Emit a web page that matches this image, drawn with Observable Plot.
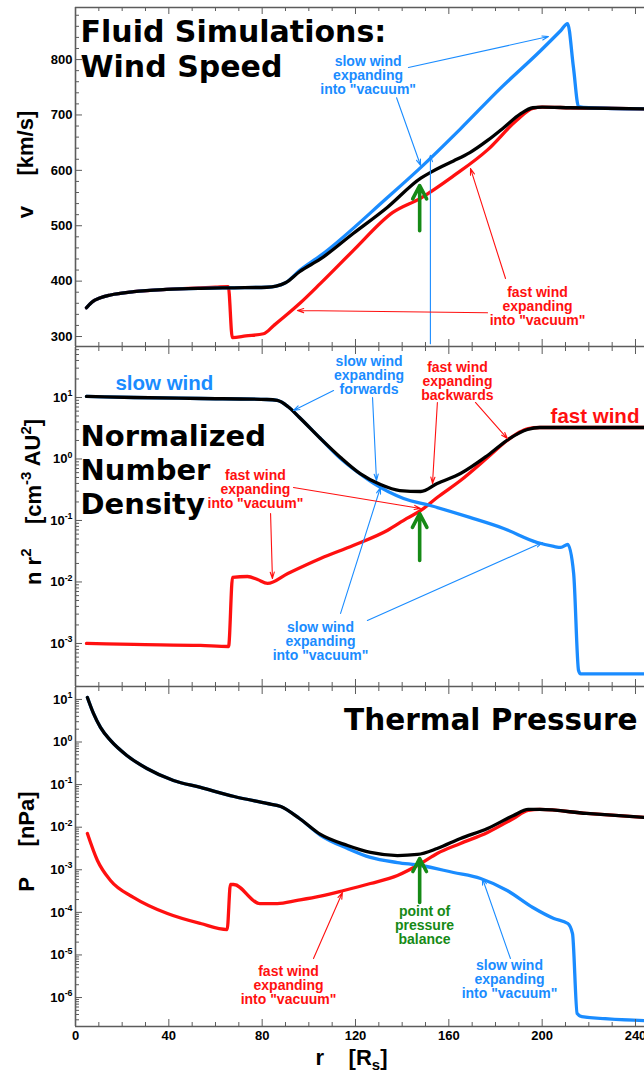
<!DOCTYPE html>
<html><head><meta charset="utf-8">
<script src="https://cdn.jsdelivr.net/npm/d3@7"></script>
<script src="https://cdn.jsdelivr.net/npm/@observablehq/plot@0.6"></script>
<style>
html,body{margin:0;padding:0;background:#fff;}
#chart{position:relative;width:644px;height:1078px;overflow:hidden;background:#fff;}
#chart svg{position:absolute;left:0;}
</style></head><body><div id="chart"></div>
<script>
// ---------- DATA ----------
// x: heliocentric distance r in solar radii
const X_MAJOR = [0, 40, 80, 120, 160, 200, 240];
const X_MINOR = [10, 20, 30, 50, 60, 70, 90, 100, 110, 130, 140, 150, 170, 180, 190, 210, 220, 230];

// Panel 1: wind speed v [km/s]
const SPEED_MAJOR = [300, 400, 500, 600, 700, 800];
const SPEED_MINOR = [320, 340, 360, 380, 420, 440, 460, 480, 520, 540, 560, 580, 620, 640, 660, 680, 720, 740, 760, 780, 820, 840, 860, 880];
const speedBlackR = [4.7, 7, 10.7, 15, 25, 39, 53.6, 68, 82, 86, 90, 96, 105, 119, 133.6, 148, 152, 157, 162, 169, 176.6, 183.5, 190.7, 196, 200, 212, 243.9];
const speedBlackV = [352, 362, 370, 375, 381, 385, 387, 388, 389, 391, 397, 417, 440, 486, 533, 586, 596, 607, 617, 632, 654, 677, 702, 713, 714, 713, 711];
const speedRedR = [4.7, 7, 10.7, 15, 25, 39, 53.6, 60, 65.5, 67.2, 73, 80.6, 85, 91, 96.4, 105, 119, 136, 148, 162, 176.6, 189, 196, 200, 212, 243.9];
const speedRedV = [352, 362, 370, 375, 381, 385, 388, 389, 390, 298, 301, 305, 320, 341, 361, 396, 455, 524, 550, 590, 637, 690, 712, 714, 713, 711];
const speedBlueR = [4.7, 7, 10.7, 15, 25, 39, 53.6, 68, 82, 86, 90, 96, 105, 133.7, 147.9, 165, 182.1, 199.3, 207.9, 210.9, 213.4, 215.6, 220, 243.9];
const speedBlueV = [352, 362, 370, 375, 381, 385, 387, 388, 389, 391, 397, 419, 446, 551, 605, 675, 748, 816, 852, 865, 786, 715, 713, 711];

// Panel 2: normalized number density n r^2 [cm^-3 AU^2]
const DENS_DECADES = [-3, -2, -1, 0, 1];
const densBlackR = [4.7, 25, 53.6, 82, 86.5, 91, 96, 105, 113.6, 122, 130.7, 139, 148, 155, 165, 176.6, 186, 193.7, 199, 243.9];
const densBlackN = [10.4, 10, 9.63, 9.28, 8.94, 7.14, 4.73, 2.15, 1.06, 0.58, 0.385, 0.307, 0.296, 0.40, 0.58, 1.14, 2.15, 3.02, 3.25, 3.25];
const densBlueR = [4.7, 25, 53.6, 82, 86.5, 91, 96, 105, 113.6, 122, 127.8, 140.6, 152, 169, 183.5, 198, 205, 208, 211, 213.5, 215.6, 216.5, 243.9];
const densBlueN = [10.4, 10, 9.63, 9.28, 8.94, 7.14, 4.73, 2.15, 1.02, 0.57, 0.40, 0.228, 0.175, 0.112, 0.0741, 0.0438, 0.0378, 0.0364, 0.0407, 0.0137, 3.64e-4, 3.2e-4, 3.2e-4];
const densRedR = [4.7, 25, 53.6, 65.6, 67.3, 73.7, 78, 82.3, 91, 105, 119, 133.6, 142, 148, 155, 165, 176.6, 185, 190, 194, 199, 243.9];
const densRedN = [1.0e-3, 9.63e-4, 9.28e-4, 8.93e-4, 0.01183, 0.01228, 0.01099, 0.00946, 0.01374, 0.0241, 0.0392, 0.0687, 0.108, 0.1456, 0.2366, 0.447, 1.057, 2.0, 2.70, 3.13, 3.25, 3.25];

// Panel 3: thermal pressure P [nPa]
const PRES_DECADES = [-6, -5, -4, -3, -2, -1, 0, 1];
const presBlackR = [5.1, 7.7, 10.7, 15, 22, 30.6, 42, 53.6, 68, 82, 88, 96, 105, 116.6, 126.4, 138, 146.6, 155, 165, 176.6, 187.7, 194, 199, 219, 243.9];
const presBlackP = [11.1, 4.69, 2.20, 1.09, 0.484, 0.239, 0.125, 0.0857, 0.0526, 0.0361, 0.0306, 0.0160, 0.00675, 0.00372, 0.00255, 0.00216, 0.00229, 0.00316, 0.00543, 0.00933, 0.0188, 0.0261, 0.0261, 0.0210, 0.0169];
const presRedR = [5.1, 9.4, 15, 25, 39.4, 53.6, 65, 66.4, 67.8, 79, 86.5, 95, 105, 115, 126.4, 138, 148, 155, 165, 176.6, 187.7, 194, 199, 219, 243.9];
const presRedP = [7.11e-3, 1.65e-3, 5.60e-4, 2.23e-4, 9.40e-5, 5.47e-5, 3.95e-5, 4.51e-4, 4.51e-4, 1.61e-4, 1.61e-4, 1.91e-4, 2.40e-4, 3.26e-4, 4.76e-4, 7.35e-4, 1.40e-3, 2.41e-3, 4.14e-3, 7.52e-3, 0.0160, 0.0247, 0.0261, 0.0210, 0.0169];
const presBlueR = [5.1, 7.7, 10.7, 15, 22, 30.6, 42, 53.6, 68, 82, 88, 96, 105, 116.6, 126.4, 138, 148, 162, 173.6, 185, 196, 205, 211, 213, 215, 217, 243.9];
const presBlueP = [11.1, 4.69, 2.20, 1.09, 0.484, 0.239, 0.125, 0.0857, 0.0526, 0.0361, 0.0306, 0.0160, 6.46e-3, 3.16e-3, 1.95e-3, 1.48e-3, 1.26e-3, 8.63e-4, 6.24e-4, 3.26e-4, 1.30e-4, 7.18e-5, 5.47e-5, 3.18e-5, 4.21e-7, 3.57e-7, 2.88e-7];

// ---------- ANNOTATIONS (texts and arrows, in data coordinates) ----------
const speedTitle = [{r: 2.14, y: 876.4, text: "Fluid Simulations:\nWind Speed"}];
const speedBlueNotes = [{r: 125.4, y: 771, text: 'slow wind\nexpanding\ninto "vacuum"'}];
const speedRedNotes = [{r: 198, y: 354, text: 'fast wind\nexpanding\ninto "vacuum"'}];
const speedBlueArrows = [
  {r1: 142.7, y1: 785.6, r2: 202.7, y2: 841.5},
  {r1: 137.6, y1: 731, r2: 147.9, y2: 608.7},
  {r1: 152.1, y1: 287, r2: 152.1, y2: 627}
];
const speedRedArrows = [
  {r1: 184.3, y1: 404.7, r2: 169.3, y2: 603.2},
  {r1: 176.6, y1: 343, r2: 95.1, y2: 347}
];
const speedGreenArrows = [{r1: 147.5, y1: 491, r2: 147.5, y2: 572.6}];
const speedAxisLabel = [{r: -21.4, y: 610.5, text: "v\u00a0\u00a0\u00a0\u00a0\u00a0[km/s]"}];

const densTitle = [{r: 2.14, y: 4.01, text: "Normalized\nNumber\nDensity"}];
const densSlowLabel = [{r: 17.1, y: 13.0, text: "slow wind"}];
const densFastLabel = [{r: 203.6, y: 3.78, text: "fast wind"}];
const densBlueNotes = [
  {r: 125.8, y: 22.8, text: "slow wind\nexpanding\nforwards"},
  {r: 105, y: 1.08e-3, text: 'slow wind\nexpanding\ninto "vacuum"'}
];
const densRedNotes = [
  {r: 163.7, y: 18.2, text: "fast wind\nexpanding\nbackwards"},
  {r: 77.1, y: 0.319, text: 'fast wind\nexpanding\ninto "vacuum"'}
];
const densBlueArrows = [
  {r1: 110.6, y1: 13.0, r2: 93.4, y2: 6.15},
  {r1: 127.3, y1: 10, r2: 129, y2: 0.447},
  {r1: 125.1, y1: 2.37e-3, r2: 200.1, y2: 0.0438},
  {r1: 113.6, y1: 3.08e-3, r2: 130.7, y2: 0.344}
];
const densRedArrows = [
  {r1: 155.1, y1: 8.3, r2: 153, y2: 0.40},
  {r1: 171.4, y1: 8.3, r2: 185.1, y2: 2.15},
  {r1: 93.4, y1: 0.344, r2: 147.9, y2: 0.157},
  {r1: 83.6, y1: 0.130, r2: 84.4, y2: 0.0114}
];
const densGreenArrows = [{r1: 147.5, y1: 0.0224, r2: 147.5, y2: 0.130}];
const densAxisLabel = [{r: -18, y: 0.2, text: "n r^{2}\u00a0\u00a0\u00a0\u00a0[cm^{-3} AU^{2}]"}];

const presTitle = [{r: 240.9, y: 1.87, text: "Thermal Pressure"}];
const presGreenNotes = [{r: 149.6, y: 4.91e-5, text: "point of\npressure\nbalance"}];
const presBlueNotes = [{r: 186, y: 2.65e-6, text: 'slow wind\nexpanding\ninto "vacuum"'}];
const presRedNotes = [{r: 91.3, y: 1.96e-6, text: 'fast wind\nexpanding\ninto "vacuum"'}];
const presBlueArrows = [{r1: 186.4, y1: 8.24e-6, r2: 174.4, y2: 6.24e-4}];
const presRedArrows = [{r1: 102, y1: 8.24e-6, r2: 114.4, y2: 2.92e-4}];
const presGreenArrows = [{r1: 147.5, y1: 1.70e-4, r2: 147.5, y2: 1.84e-3}];
const presAxisLabel = [{r: -21, y: 4.6e-3, text: "P\u00a0\u00a0\u00a0\u00a0\u00a0[nPa]"}];
const xAxisLabel = [{r: 118.3, text: "r\u00a0\u00a0\u00a0\u00a0[R_{s}]"}];

// ---------- STYLE ----------
const FRAME = "#5c5c5c";
const SANS = "'Liberation Sans', Arial, Helvetica, sans-serif";
const TITLE_FONT = "'DejaVu Sans', 'Liberation Sans', sans-serif";
const BLUE = "#1a8cff", RED = "#ff1010", GREEN = "#168a16", BLACK = "#000000";
const WIDTH = 644, MARGIN_LEFT = 75, X_DOMAIN = [0, 243.86];

const zip = (xs, ys) => xs.map((x, i) => ({r: x, y: ys[i]}));
function logMinors(decades, lo, hi) {
  const out = [];
  for (let d = decades[0] - 1; d <= decades[decades.length - 1]; d++)
    for (let k = 2; k <= 9; k++) { const v = k * 10 ** d; if (v >= lo && v <= hi) out.push(v); }
  return out;
}

function smallText(data, fill) {
  return Plot.text(data, {x: "r", y: "y", text: "text", fill, fontSize: 14, fontWeight: "bold",
    fontFamily: SANS, lineHeight: 1, lineAnchor: "middle", textAnchor: "middle"});
}
function thinArrows(data, stroke) {
  return Plot.arrow(data, {x1: "r1", y1: "y1", x2: "r2", y2: "y2", stroke, strokeWidth: 1.1, headLength: 9, headAngle: 36});
}
function greenArrow(data) {
  return Plot.arrow(data, {x1: "r1", y1: "y1", x2: "r2", y2: "y2", stroke: GREEN, strokeWidth: 3.6, headLength: 11, headAngle: 55});
}
function curve(data, stroke) {
  return Plot.line(data, {x: "r", y: "y", stroke, strokeWidth: 3.3, curve: "monotone-x", strokeLinejoin: "round"});
}

function panel({height, marginTop, marginBottom, y, yMajor, yMinor, topRule, marks}) {
  const H = height - marginTop - marginBottom;
  const W = WIDTH - MARGIN_LEFT;
  const frame = [
    Plot.tickX(X_MINOR, {x: d => d, stroke: FRAME, strokeWidth: 1, insetTop: H - 4}),
    Plot.tickX(X_MAJOR, {x: d => d, stroke: FRAME, strokeWidth: 1, insetTop: H - 7}),
    Plot.tickX(X_MINOR, {x: d => d, stroke: FRAME, strokeWidth: 1, insetBottom: H - 4}),
    Plot.tickX(X_MAJOR, {x: d => d, stroke: FRAME, strokeWidth: 1, insetBottom: H - 7}),
    Plot.tickY(yMinor, {y: d => d, stroke: FRAME, strokeWidth: 1, insetRight: W - 4}),
    Plot.tickY(yMajor, {y: d => d, stroke: FRAME, strokeWidth: 1, insetRight: W - 7}),
    Plot.ruleX([0], {stroke: FRAME, strokeWidth: 1.6}),
    Plot.ruleY([y.domain[0]], {stroke: FRAME, strokeWidth: 1.6})
  ];
  if (topRule) frame.push(Plot.ruleY([y.domain[1]], {stroke: FRAME, strokeWidth: 1.6}));
  return Plot.plot({
    width: WIDTH, height, marginLeft: MARGIN_LEFT, marginRight: 0, marginTop, marginBottom,
    x: {domain: X_DOMAIN, axis: null},
    y: {...y, axis: null},
    style: {background: "transparent", overflow: "visible", fontFamily: SANS},
    marks: [...marks, ...frame]
  });
}

function yTickLabels(values, textFn, yFn) {
  return Plot.text(values, {frameAnchor: "left", y: yFn, text: textFn, textAnchor: "end", dx: -3,
    fontSize: 13, fontWeight: "bold", fontFamily: SANS, fill: "#000", lineAnchor: "middle"});
}
function axisLabel(data) {
  return Plot.text(data, {x: "r", y: "y", text: "text", rotate: -90, fontSize: 22, fontWeight: "bold",
    fontFamily: SANS, fill: "#000", lineAnchor: "middle", textAnchor: "middle"});
}

// ---------- PANEL 1: speed ----------
const speedY = {domain: [282, 894]};
const p1 = panel({
  height: 347, marginTop: 7, marginBottom: 1, y: speedY, topRule: true,
  yMajor: SPEED_MAJOR, yMinor: SPEED_MINOR,
  marks: [
    curve(zip(speedRedR, speedRedV), RED),
    curve(zip(speedBlueR, speedBlueV), BLUE),
    curve(zip(speedBlackR, speedBlackV), BLACK),
    thinArrows(speedBlueArrows, BLUE),
    thinArrows(speedRedArrows, RED),
    greenArrow(speedGreenArrows),
    smallText(speedBlueNotes, BLUE),
    smallText(speedRedNotes, RED),
    Plot.text(speedTitle, {x: "r", y: "y", text: "text", fontSize: 30, fontWeight: "bold", fontFamily: TITLE_FONT,
      lineAnchor: "top", textAnchor: "start", lineHeight: 1.167, fill: "#000"}),
    yTickLabels(SPEED_MAJOR, d => String(d), d => d),
    axisLabel(speedAxisLabel)
  ]
});

// ---------- PANEL 2: density ----------
const densY = {type: "log", domain: [10 ** -3.70, 10 ** 1.813]};
const p2 = panel({
  height: 340, marginTop: 0, marginBottom: 1, y: densY, topRule: false,
  yMajor: DENS_DECADES.map(d => 10 ** d), yMinor: logMinors(DENS_DECADES, densY.domain[0], densY.domain[1]),
  marks: [
    curve(zip(densRedR, densRedN), RED),
    curve(zip(densBlueR, densBlueN), BLUE),
    curve(zip(densBlackR, densBlackN), BLACK),
    thinArrows(densBlueArrows, BLUE),
    thinArrows(densRedArrows, RED),
    greenArrow(densGreenArrows),
    smallText(densBlueNotes, BLUE),
    smallText(densRedNotes, RED),
    Plot.text(densSlowLabel, {x: "r", y: "y", text: "text", fontSize: 20.5, fontWeight: "bold", fontFamily: SANS,
      fill: BLUE, lineAnchor: "bottom", textAnchor: "start"}),
    Plot.text(densFastLabel, {x: "r", y: "y", text: "text", fontSize: 20.5, fontWeight: "bold", fontFamily: SANS,
      fill: RED, lineAnchor: "bottom", textAnchor: "start"}),
    Plot.text(densTitle, {x: "r", y: "y", text: "text", fontSize: 29, fontWeight: "bold", fontFamily: TITLE_FONT,
      lineAnchor: "top", textAnchor: "start", lineHeight: 1.17, fill: "#000"}),
    yTickLabels(DENS_DECADES, d => `10^{${d}}`, d => 10 ** d),
    axisLabel(densAxisLabel)
  ]
});

// ---------- PANEL 3: pressure ----------
const presY = {type: "log", domain: [10 ** -6.68, 10 ** 1.28]};
const p3 = panel({
  height: 391, marginTop: 0, marginBottom: 52, y: presY, topRule: false,
  yMajor: PRES_DECADES.map(d => 10 ** d), yMinor: logMinors(PRES_DECADES, presY.domain[0], presY.domain[1]),
  marks: [
    curve(zip(presRedR, presRedP), RED),
    curve(zip(presBlueR, presBlueP), BLUE),
    curve(zip(presBlackR, presBlackP), BLACK),
    thinArrows(presBlueArrows, BLUE),
    thinArrows(presRedArrows, RED),
    greenArrow(presGreenArrows),
    smallText(presGreenNotes, GREEN),
    smallText(presBlueNotes, BLUE),
    smallText(presRedNotes, RED),
    Plot.text(presTitle, {x: "r", y: "y", text: "text", fontSize: 29.5, fontWeight: "bold", fontFamily: TITLE_FONT,
      lineAnchor: "bottom", textAnchor: "end", fill: "#000"}),
    yTickLabels(PRES_DECADES, d => `10^{${d}}`, d => 10 ** d),
    axisLabel(presAxisLabel),
    Plot.text(X_MAJOR, {x: d => d, frameAnchor: "bottom", dy: 9, text: d => String(d), fontSize: 13, fontWeight: "bold",
      fontFamily: SANS, fill: "#000", lineAnchor: "middle", textAnchor: "middle"}),
    Plot.text(xAxisLabel, {x: "r", frameAnchor: "bottom", dy: 31, text: "text", fontSize: 22, fontWeight: "bold",
      fontFamily: SANS, fill: "#000", lineAnchor: "middle", textAnchor: "middle"})
  ]
});

const chart = document.getElementById("chart");
[[p1, 0], [p2, 347], [p3, 687]].forEach(([svg, top]) => { svg.style.top = top + "px"; chart.appendChild(svg); });

// turn ^{..} / _{..} markup into superscript / subscript tspans
function richify(root) {
  const NS = "http://www.w3.org/2000/svg";
  root.querySelectorAll("text").forEach(t => {
    const targets = t.querySelector("tspan") ? Array.from(t.querySelectorAll("tspan")) : [t];
    targets.forEach(el => {
      const s = el.textContent;
      if (!/[\^_]\{/.test(s)) return;
      while (el.firstChild) el.removeChild(el.firstChild);
      const re = /([\^_])\{([^}]*)\}/g;
      let last = 0, m, reset = 0;
      const add = (str, dy, small) => {
        const sp = document.createElementNS(NS, "tspan");
        if (small) sp.setAttribute("style", "font-size:68%");
        if (dy) sp.setAttribute("dy", dy + "em");
        sp.textContent = str;
        el.appendChild(sp);
      };
      while ((m = re.exec(s))) {
        if (m.index > last) { add(s.slice(last, m.index), reset, false); reset = 0; }
        if (m[1] === "^") { add(m[2], reset ? reset / 0.68 - 0.62 : -0.62, true); reset = 0.42; }
        else { add(m[2], 0.36, true); reset = -0.245; }
        last = re.lastIndex;
      }
      if (last < s.length) add(s.slice(last), reset, false);
    });
  });
}
richify(chart);
</script>
</body></html>
